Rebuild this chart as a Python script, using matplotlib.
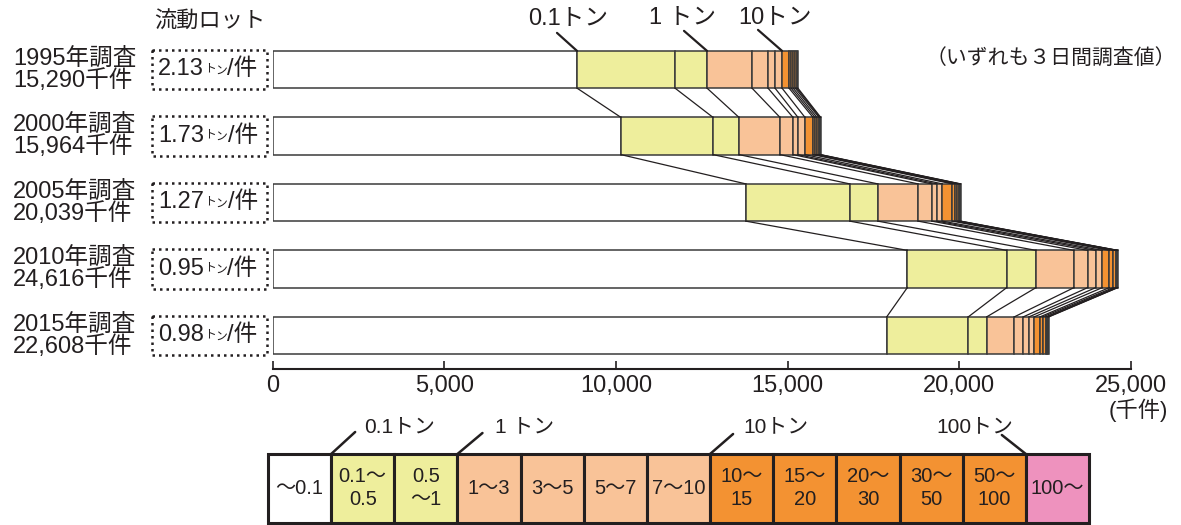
import matplotlib
matplotlib.use('Agg')
import matplotlib.pyplot as plt
from matplotlib.patches import Rectangle
from matplotlib.transforms import blended_transform_factory
import numpy as np

plt.rcParams['font.family'] = ['Liberation Sans', 'Noto Sans CJK JP', 'DejaVu Sans']
plt.rcParams['text.color'] = '#231f20'

# data (千件, 重量階層別)
years = ['1995', '2000', '2005', '2010', '2015']
totals = ['15,290', '15,964', '20,039', '24,616', '22,608']
lots = ['2.13', '1.73', '1.27', '0.95', '0.98']
classes = ['〜0.1', '0.1〜\n0.5', '0.5\n〜1', '1〜3', '3〜5', '5〜7', '7〜10',
           '10〜\n15', '15〜\n20', '20〜\n30', '30〜\n50', '50〜\n100', '100〜']
seg_1995 = [8867, 2854, 932, 1310, 466, 204, 204, 204, 60, 60, 60, 45, 34]
seg_2000 = [10146, 2681, 757, 1194, 379, 145, 204, 233, 58, 58, 59, 30, 20]
seg_2005 = [13780, 3028, 816, 1173, 399, 146, 163, 291, 79, 67, 45, 30, 22]
seg_2010 = [18486, 2894, 854, 1106, 399, 233, 192, 204, 117, 70, 30, 20, 11]
seg_2015 = [17886, 2376, 536, 804, 262, 166, 154, 166, 79, 87, 45, 30, 17]
segments = [seg_1995, seg_2000, seg_2005, seg_2010, seg_2015]

white, yellow, salmon, orange, pink = '#ffffff', '#eeee9c', '#f9c398', '#f39232', '#ee92be'
class_colors = [white, yellow, yellow, salmon, salmon, salmon, salmon,
                orange, orange, orange, orange, orange, pink]

W, H = 1181, 525
fig = plt.figure(figsize=(W / 100, H / 100), dpi=100)
PT = 0.72  # px -> pt

ax = fig.add_axes([272.5 / W, (H - 369) / H, (1131 - 272.5) / W, (369 - 30) / H])
bh = 0.56
cums = []
for i, seg in enumerate(segments):
    cum = np.concatenate([[0], np.cumsum(seg)])
    cums.append(cum)
    ax.barh(i, seg, left=cum[:-1], height=bh, color=class_colors,
            edgecolor='#3a3a3a', linewidth=1.1)

# connecting lines between survey years
for i in range(len(segments) - 1):
    for k in range(1, len(cums[i])):
        ax.plot([cums[i][k], cums[i + 1][k]], [i + bh / 2, i + 1 - bh / 2],
                color='#231f20', lw=0.9, zorder=1)

ax.set_xlim(0, 25000)
ax.set_ylim(4.504, -0.594)
for s in ['top', 'left', 'right']:
    ax.spines[s].set_visible(False)
ax.spines['bottom'].set_linewidth(1.5)
ax.spines['bottom'].set_color('#231f20')
ax.set_yticks([])
ax.set_xticks(np.arange(0, 25001, 5000))
ax.set_xticklabels(['0', '5,000', '10,000', '15,000', '20,000', '25,000'])
ax.tick_params(axis='x', direction='in', length=6, width=1.2, labelsize=17, pad=4,
               colors='#231f20')

# left labels and lot boxes
trans = blended_transform_factory(ax.transAxes, ax.transData)
for i in range(len(years)):
    ax.annotate(years[i] + '年調査', xy=(0, i), xycoords=('axes fraction', 'data'),
                xytext=((13 - 272.5) * PT, 11 * PT), textcoords='offset points',
                ha='left', va='center', fontsize=17)
    ax.annotate(totals[i] + '千件', xy=(0, i), xycoords=('axes fraction', 'data'),
                xytext=((13 - 272.5) * PT, -11 * PT), textcoords='offset points',
                ha='left', va='center', fontsize=17)
    ax.add_patch(Rectangle((-120.5 / 858.5, i - 0.3), 115 / 858.5, 0.6, transform=trans,
                           fill=False, ls=(0, (1, 1.6)), lw=1.8, edgecolor='#231f20',
                           clip_on=False))
    t1 = ax.annotate(lots[i], xy=(0, i), xycoords=('axes fraction', 'data'),
                     xytext=((158 - 272.5) * PT, 0), textcoords='offset points',
                     ha='left', va='center', fontsize=17)
    t2 = ax.annotate('ト', xy=(1, 0.82), xycoords=t1, ha='left', va='top', fontsize=8.5)
    t3 = ax.annotate('ン', xy=(1, 0.18), xycoords=(t2, t1), ha='left', va='bottom', fontsize=8.5)
    ax.annotate('/件', xy=(1, 0.5), xycoords=(t3, t1), ha='left', va='center', fontsize=17)

# callouts above the 1995 bar
top = -bh / 2
for k, label, line_off, text_off in [(1, '0.1トン', (-20, 18), (-9, 33)),
                                     (3, '1 トン', (-23, 20), (-25, 34)),
                                     (7, '10トン', (-24, 21), (-7, 34))]:
    x0 = cums[0][k]
    ax.annotate('', xy=(x0, top), xytext=(line_off[0] * PT, line_off[1] * PT),
                textcoords='offset points', annotation_clip=False,
                arrowprops=dict(arrowstyle='-', lw=1.6, color='#231f20', shrinkA=0, shrinkB=0))
    ax.annotate(label, xy=(x0, top), xytext=(text_off[0] * PT, text_off[1] * PT),
                textcoords='offset points', ha='center', va='center', fontsize=17,
                annotation_clip=False)

fig.text(210 / W, 1 - 22 / H, '流動ロット', ha='center', va='center', fontsize=16)
fig.text(1176 / W, 1 - 58 / H, '（いずれも３日間調査値）', ha='right', va='center', fontsize=15)
fig.text(1138 / W, 1 - 410 / H, '(千件)', ha='center', va='center', fontsize=16)

# legend strip
ax2 = fig.add_axes([268 / W, (H - 522.5) / H, 821 / W, 68.5 / H])
ax2.bar(np.arange(len(classes)), np.ones(len(classes)), width=1, align='edge',
        color=class_colors, edgecolor='#231f20', linewidth=2.2, clip_on=False)
for k, c in enumerate(classes):
    ax2.text(k + 0.5, 0.5, c, ha='center', va='center', fontsize=14.5, linespacing=1.25)
ax2.set_xlim(0, len(classes))
ax2.set_ylim(0, 1)
ax2.axis('off')

for k, label, line_off, text_off, ha in [(1, '0.1トン', (24, 22), (33, 27), 'left'),
                                         (3, '1 トン', (25, 21), (38, 27), 'left'),
                                         (7, '10トン', (23, 20), (33, 27), 'left'),
                                         (12, '100トン', (-24, 19), (-13, 27), 'right')]:
    ax2.annotate('', xy=(k, 1), xytext=(line_off[0] * PT, line_off[1] * PT),
                 textcoords='offset points', annotation_clip=False,
                 arrowprops=dict(arrowstyle='-', lw=1.8, color='#231f20', shrinkA=0, shrinkB=0))
    ax2.annotate(label, xy=(k, 1), xytext=(text_off[0] * PT, text_off[1] * PT),
                 textcoords='offset points', ha=ha, va='center', fontsize=15,
                 annotation_clip=False)

fig.savefig('out.png', dpi=100)
